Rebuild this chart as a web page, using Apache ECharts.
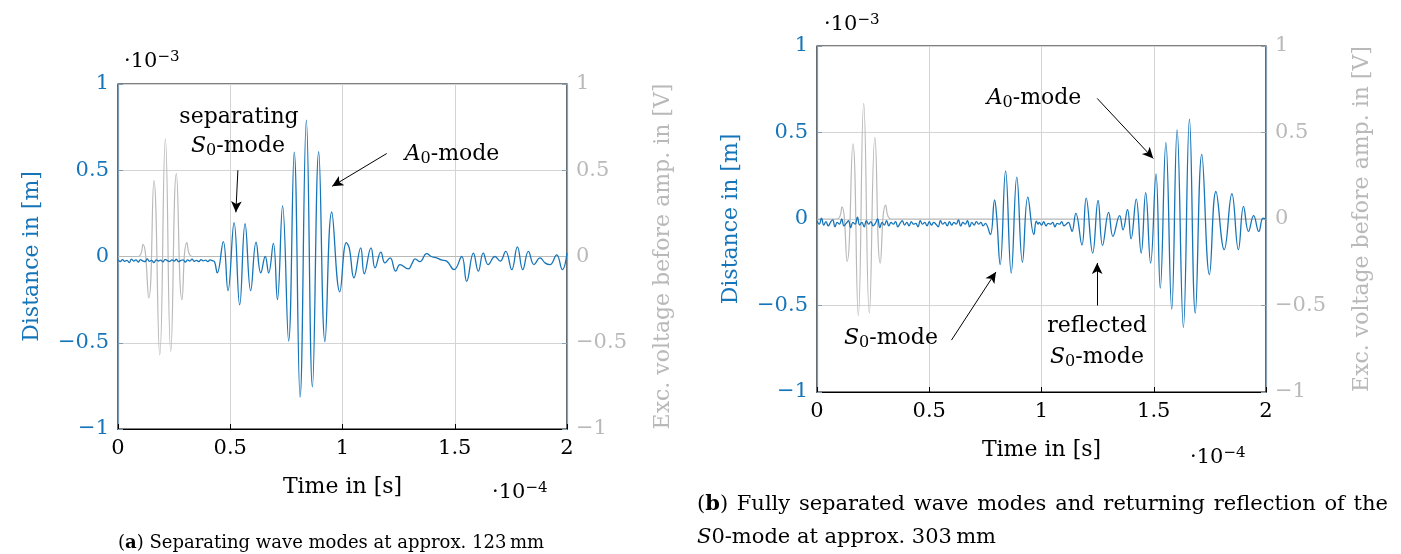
<!DOCTYPE html>
<html>
<head>
<meta charset="utf-8">
<script src="https://cdn.jsdelivr.net/npm/echarts@6/dist/echarts.min.js"></script>
<style>
  html, body { margin: 0; padding: 0; background: #fff; }
  #chart { width: 1401px; height: 554px; }
</style>
</head>
<body>
<div id="chart"></div>
<script>
// x values are in units of 1e-4 s, distance in 1e-3 m, voltage in V
const xTicks = [0, 0.5, 1, 1.5, 2];
const yTicks = [-1, -0.5, 0, 0.5, 1];

// (a) excitation burst (grey, right axis)
const voltA = [[0, 0], [0.09, 0], [0.111, 0.07], [0.137, -0.24], [0.160, 0.44], [0.186, -0.57], [0.211, 0.68],
  [0.235, -0.55], [0.260, 0.48], [0.285, -0.25], [0.307, 0.08], [0.33, 0], [2, 0]];
// (a) measured distance: noise floor sampled every 0.01 from t = 0
const noiseA = [-0.02, -0.03, -0.018, -0.028, -0.022, -0.035, -0.015, -0.027, -0.02, -0.032,
  -0.018, -0.025, -0.03, -0.014, -0.028, -0.022, -0.036, -0.019, -0.026, -0.021,
  -0.031, -0.017, -0.024, -0.029, -0.02, -0.027, -0.016, -0.03, -0.023, -0.019,
  -0.033, -0.02, -0.026, -0.015, -0.028, -0.022, -0.03, -0.018, -0.025, -0.021,
  -0.029, -0.02, -0.024, -0.03];
const waveA = [[0.442, -0.095], [0.469, 0.086], [0.490, -0.198], [0.517, 0.196], [0.542, -0.28], [0.566, 0.19],
  [0.591, -0.198], [0.615, 0.083], [0.636, -0.095], [0.656, 0.0], [0.671, -0.095], [0.692, 0.076], [0.710, -0.25],
  [0.733, 0.293], [0.760, -0.49], [0.785, 0.605], [0.811, -0.815], [0.839, 0.79], [0.866, -0.756], [0.894, 0.608],
  [0.922, -0.494], [0.952, 0.258], [0.988, -0.205], [1.017, 0.08], [1.030, 0.05], [1.051, -0.124], [1.081, 0.05],
  [1.097, -0.1], [1.127, 0.05], [1.145, -0.066], [1.171, 0.025], [1.189, -0.037], [1.212, -0.008], [1.237, -0.085],
  [1.256, -0.047], [1.293, -0.072], [1.310, -0.04], [1.323, -0.014], [1.345, -0.03], [1.375, 0.017], [1.395, 0.0],
  [1.420, -0.008], [1.440, -0.02], [1.464, -0.027], [1.497, -0.076], [1.531, 0], [1.553, -0.144], [1.583, 0.02],
  [1.605, -0.085], [1.627, 0.02], [1.649, -0.047], [1.679, 0], [1.702, -0.027], [1.727, 0.03], [1.754, -0.076],
  [1.779, 0.056], [1.803, -0.076], [1.828, 0.03], [1.853, -0.047], [1.880, -0.008], [1.902, -0.037],
  [1.924, -0.047], [1.954, 0.01], [1.979, -0.076], [2.0, 0.02]];

// (b) excitation burst
const voltB = [[0, 0], [0.09, 0], [0.111, 0.07], [0.134, -0.245], [0.160, 0.435], [0.184, -0.557], [0.208, 0.668],
  [0.233, -0.543], [0.258, 0.472], [0.282, -0.255], [0.306, 0.08], [0.33, 0], [2, 0]];
// (b) measured distance
const noiseB1 = [-0.01, -0.03, 0.005, -0.035, -0.015, -0.04, -0.02, -0.005, -0.045, -0.02,
  -0.03, 0.0, -0.04, -0.025, -0.01, -0.05, -0.02, -0.03, 0.01, -0.035,
  -0.02, -0.045, -0.01, -0.03, -0.015, -0.04, -0.025, 0.0, -0.05, -0.02,
  -0.035, -0.01, -0.04, -0.02, -0.03, -0.015, -0.045, -0.025, -0.01, -0.035,
  -0.02, -0.04, -0.015, -0.03, -0.025, -0.045, -0.01, -0.03, -0.02, -0.04,
  -0.015, -0.035, -0.02, -0.03, -0.045, -0.01, -0.03, -0.02, -0.04, -0.015,
  -0.035, -0.02, -0.03, -0.005, -0.04, -0.02, -0.03, -0.01, -0.045, -0.02,
  -0.035, -0.015, -0.03, -0.02, -0.04, -0.025];
const waveB1 = [[0.772, -0.09], [0.791, 0.11], [0.800, 0.02], [0.816, -0.264], [0.840, 0.278], [0.865, -0.312],
  [0.890, 0.242], [0.915, -0.25], [0.939, 0.127], [0.966, -0.09], [0.977, -0.013], [0.985, -0.03]];
// second noise stretch, sampled every 0.01 from t = 0.99
const noiseB2 = [-0.02, -0.035, -0.015, -0.04, -0.025, -0.03, -0.02, -0.045, -0.025, -0.03,
  -0.015, -0.04, -0.03, -0.02, -0.05];
const waveB2 = [[1.136, -0.072], [1.153, 0.033], [1.180, -0.15], [1.199, 0.121], [1.228, -0.197], [1.252, 0.107],
  [1.272, -0.153], [1.299, 0.038], [1.318, -0.1], [1.348, 0.02], [1.363, -0.062], [1.383, 0.054], [1.399, -0.115],
  [1.422, 0.115], [1.444, -0.197], [1.464, 0.153], [1.486, -0.255], [1.510, 0.261], [1.529, -0.4], [1.554, 0.441],
  [1.580, -0.521], [1.604, 0.515], [1.632, -0.627], [1.659, 0.577], [1.685, -0.544], [1.714, 0.374], [1.748, -0.321],
  [1.777, 0.159], [1.814, -0.177], [1.848, 0.146], [1.877, -0.177], [1.900, 0.073], [1.922, -0.072], [1.945, 0.02],
  [1.968, -0.072], [1.987, 0.005], [2.0, 0.0]];

const BLUE = '#1675b9';
const GREY = '#b9b9b9';
const FONT = 'DejaVu Serif';
const CAP = 18;   // caption (a)
const CAPB = 21;  // caption (b), set larger in the source

function sampled(vals, t0) {
  return vals.map((v, i) => [+(t0 + i * 0.01).toFixed(3), v]);
}
const distA = sampled(noiseA, 0).concat(waveA);
const distB = sampled(noiseB1, 0).concat(waveB1, sampled(noiseB2, 0.99), waveB2);

const fmt = (v) => (v < 0 ? '\u2212' + Math.abs(v) : String(v));

const grids = [
  { left: 118, top: 84, width: 449, height: 345 },
  { left: 817, top: 46, width: 449, height: 346 },
];

function xAxis(gi) {
  return {
    type: 'value', gridIndex: gi, min: xTicks[0], max: xTicks[xTicks.length - 1], interval: 0.5,
    name: 'Time in [s]', nameLocation: 'middle', nameGap: 47,
    nameTextStyle: { color: '#000', fontFamily: FONT, fontSize: 22 },
    axisLine: { onZero: false, lineStyle: { color: '#000', width: 1.2 } },
    axisTick: { inside: true, length: 5, lineStyle: { color: '#000' } },
    axisLabel: { color: '#000', fontFamily: FONT, fontSize: 21, margin: 9, formatter: fmt },
    splitLine: { lineStyle: { color: '#d4d4d4', width: 1 } },
  };
}
function yAxis(gi, right) {
  const c = right ? GREY : BLUE;
  return {
    type: 'value', gridIndex: gi, min: yTicks[0], max: yTicks[yTicks.length - 1], interval: 0.5,
    position: right ? 'right' : 'left',
    name: right ? 'Exc. voltage before amp. in [V]' : 'Distance in [m]',
    nameLocation: 'middle', nameRotate: 90, nameGap: right ? 85 : 75,
    nameTextStyle: { color: c, fontFamily: FONT, fontSize: 22 },
    axisLine: { show: true, onZero: false, lineStyle: { color: right ? '#8aa3b5' : '#7f9cb3', width: 1.2 } },
    axisTick: { show: true, inside: true, length: 5, lineStyle: { color: right ? '#8aa3b5' : '#7f9cb3' } },
    axisLabel: { color: c, fontFamily: FONT, fontSize: 21, margin: 9, formatter: fmt },
    splitLine: { show: !right, lineStyle: { color: '#d4d4d4', width: 1 } },
  };
}

const arrowStyle = {
  silent: true, symbol: ['none', 'arrow'], symbolSize: [8, 11],
  lineStyle: { color: '#000', width: 1, type: 'solid' }, label: { show: false }, emphasis: { disabled: true },
};

const rich = {
  n: { fontFamily: FONT, fontSize: 22, color: '#000', lineHeight: 26 },
  it: { fontFamily: FONT, fontSize: 22, fontStyle: 'italic', color: '#000', lineHeight: 26 },
  sub: { fontFamily: FONT, fontSize: 16, color: '#000', lineHeight: 26, padding: [9, 0, 0, 0] },
  b: { fontFamily: FONT, fontSize: CAP, fontWeight: 'bold', color: '#000' },
  c: { fontFamily: FONT, fontSize: CAP, color: '#000' },
  bb: { fontFamily: FONT, fontSize: CAPB, fontWeight: 'bold', color: '#000' },
  cb: { fontFamily: FONT, fontSize: CAPB, color: '#000' },
  cbi: { fontFamily: FONT, fontSize: CAPB, fontStyle: 'italic', color: '#000' },
  bl: { fontFamily: FONT, fontSize: 21, color: BLUE, lineHeight: 26 },
  bsup: { fontFamily: FONT, fontSize: 15, color: BLUE, lineHeight: 26, padding: [0, 0, 9, 0] },
  k: { fontFamily: FONT, fontSize: 21, color: '#000', lineHeight: 26 },
  ksup: { fontFamily: FONT, fontSize: 15, color: '#000', lineHeight: 26, padding: [0, 0, 9, 0] },
};

function txt(x, y, text, align) {
  return {
    type: 'text', x, y, z: 100,
    style: { text, rich, textAlign: align || 'left', textVerticalAlign: 'middle' },
  };
}

// justified caption line (LaTeX spreads the words over the full subfigure width)
function justified(x, y, width, words) {
  const ctx = document.createElement('canvas').getContext('2d');
  const widthOf = (w) => w.reduce((s, p) => {
    ctx.font = (p.bold ? 'bold ' : '') + CAPB + 'px "' + FONT + '"';
    return s + ctx.measureText(p.t).width;
  }, 0);
  const ws = words.map(widthOf);
  const gap = (width - ws.reduce((a, b) => a + b, 0)) / (words.length - 1);
  let cx = x;
  return words.map((w, i) => {
    const t = w.map((p) => '{' + (p.bold ? 'bb' : 'cb') + '|' + p.t + '}').join('');
    const el = txt(cx, y, t);
    cx += ws[i] + gap;
    return el;
  });
}

const captionB1 = [[{ t: '(' }, { t: 'b', bold: true }, { t: ')' }]].concat(
  'Fully separated wave modes and returning reflection of the'.split(' ').map((t) => [{ t }]));

const option = {
  animation: false,
  backgroundColor: '#fff',
  grid: grids.map((g) => Object.assign({ show: true, borderColor: '#000', borderWidth: 1.2, backgroundColor: 'transparent' }, g)),
  xAxis: [xAxis(0), xAxis(1)],
  yAxis: [yAxis(0, false), yAxis(0, true), yAxis(1, false), yAxis(1, true)],
  series: [
    { type: 'line', xAxisIndex: 0, yAxisIndex: 1, data: voltA, showSymbol: false, smooth: 0.5,
      lineStyle: { color: GREY, width: 1.2 }, z: 2 },
    { type: 'line', xAxisIndex: 0, yAxisIndex: 0, data: distA, showSymbol: false, smooth: 0.45,
      lineStyle: { color: BLUE, width: 1.3 }, z: 3,
      markLine: Object.assign({}, arrowStyle, { data: [
        [{ coord: [0.534, 0.50] }, { coord: [0.525, 0.256] }],
        [{ coord: [1.197, 0.597] }, { coord: [0.954, 0.407] }],
      ] }) },
    { type: 'line', xAxisIndex: 1, yAxisIndex: 3, data: voltB, showSymbol: false, smooth: 0.5,
      lineStyle: { color: GREY, width: 1.2 }, z: 2 },
    { type: 'line', xAxisIndex: 1, yAxisIndex: 2, data: distB, showSymbol: false, smooth: 0.45,
      lineStyle: { color: BLUE, width: 1.3 }, z: 3,
      markLine: Object.assign({}, arrowStyle, { data: [
        [{ coord: [1.248, 0.697] }, { coord: [1.498, 0.35] }],
        [{ coord: [0.599, -0.70] }, { coord: [0.797, -0.306] }],
        [{ coord: [1.248, -0.50] }, { coord: [1.248, -0.254] }],
      ] }) },
  ],
  graphic: [
    // exponents
    txt(124, 62, '{bl|\u00b710}{bsup|\u22123}'),
    txt(824, 25, '{bl|\u00b710}{bsup|\u22123}'),
    txt(492, 493, '{k|\u00b710}{ksup|\u22124}'),
    txt(1190, 458, '{k|\u00b710}{ksup|\u22124}'),
    // annotations (a)
    txt(239, 117, '{n|separating}', 'center'),
    txt(238, 146, '{it|S}{sub|0}{n|-mode}', 'center'),
    txt(452, 154, '{it|A}{sub|0}{n|-mode}', 'center'),
    // annotations (b)
    txt(1034, 98, '{it|A}{sub|0}{n|-mode}', 'center'),
    txt(891, 338, '{it|S}{sub|0}{n|-mode}', 'center'),
    txt(1097, 326, '{n|reflected}', 'center'),
    txt(1097, 357, '{it|S}{sub|0}{n|-mode}', 'center'),
    // captions
    txt(118, 543, '{c|(}{b|a}{c|) Separating wave modes at approx. 123\u2009mm}'),
    txt(697, 538, '{cbi|S}{cb|0-mode at approx. 303\u2009mm}'),
  ].concat(justified(697, 505, 691, captionB1)),
};

const chart = echarts.init(document.getElementById('chart'));
chart.setOption(option);
</script>
</body>
</html>
